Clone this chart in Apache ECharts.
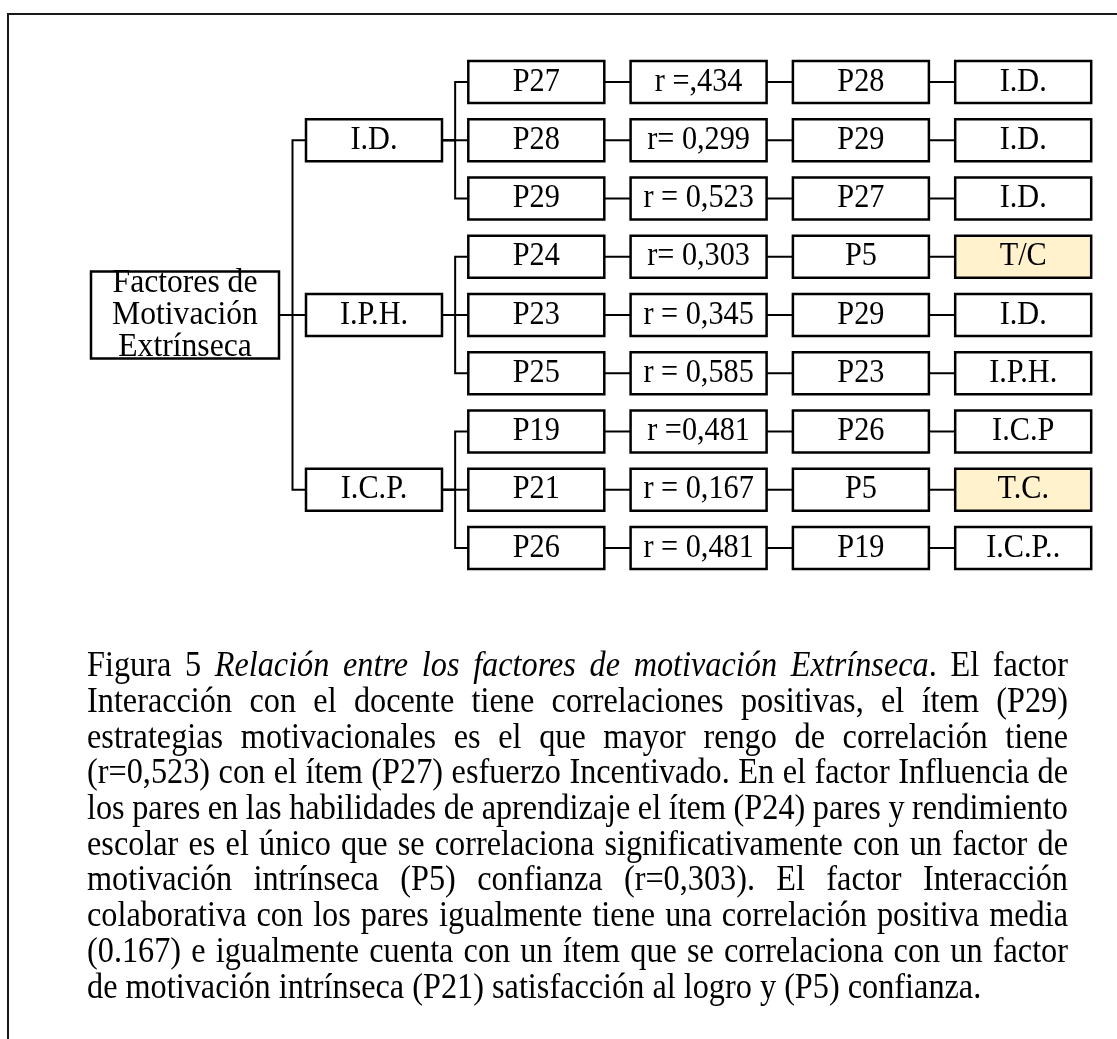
<!DOCTYPE html>
<html><head><meta charset="utf-8">
<script src="https://cdn.jsdelivr.net/npm/echarts@6/dist/echarts.min.js"></script>
<style>html,body{margin:0;padding:0;background:#fff}#c{width:1117px;height:1039px}</style>
</head><body><div id="c"></div>
<script>
// ---------- data ----------
const rootLabel = ['Factores de', 'Motivación', 'Extrínseca'];
const factors = ['I.D.', 'I.P.H.', 'I.C.P.'];
const items = ['P27', 'P28', 'P29', 'P24', 'P23', 'P25', 'P19', 'P21', 'P26'];
const itemFactor = [0, 0, 0, 1, 1, 1, 2, 2, 2];
const correlations = ['r =,434', 'r= 0,299', 'r = 0,523', 'r= 0,303', 'r = 0,345', 'r = 0,585', 'r =0,481', 'r = 0,167', 'r = 0,481'];
const pairedItems = ['P28', 'P29', 'P27', 'P5', 'P29', 'P23', 'P26', 'P5', 'P19'];
const pairedFactors = ['I.D.', 'I.D.', 'I.D.', 'T/C', 'I.D.', 'I.P.H.', 'I.C.P', 'T.C.', 'I.C.P..'];
const intrinsicLink = [0, 0, 0, 1, 0, 0, 0, 1, 0];
const captionLines = [
  'Figura 5 *Relación entre los factores de motivación Extrínseca*. El factor',
  'Interacción con el docente tiene correlaciones positivas, el ítem (P29)',
  'estrategias motivacionales es el que mayor rengo de correlación tiene',
  '(r=0,523) con el ítem (P27) esfuerzo Incentivado. En el factor Influencia de',
  'los pares en las habilidades de aprendizaje el ítem  (P24) pares y rendimiento',
  'escolar es el único que se correlaciona significativamente con un factor de',
  'motivación intrínseca (P5) confianza (r=0,303). El factor Interacción',
  'colaborativa con los pares igualmente tiene una correlación positiva media',
  '(0.167) e igualmente cuenta con un ítem que se correlaciona con un factor',
  'de motivación intrínseca (P21) satisfacción al logro y (P5) confianza.'
];

// ---------- layout / style ----------
const FONT_FAMILY = "'Liberation Serif', 'Times New Roman', serif";
const SX = 0.917;                 // the original figure is slightly condensed horizontally
const BOX_FONT = 33, ROOT_FONT = 34.5, CAP_FONT = 35.2;
const BOX_W = 136, BOX_H = 42, ROOT_W = 188, ROOT_H = 87, ROOT_LH = 32;
const HIGHLIGHT = '#FFF2CC';
const ROOT_U = -0.1645;

// build nodes from the data arrays
const nodes = [];
const rootIdx = nodes.push({u: ROOT_U, r: 4, lines: rootLabel, w: ROOT_W, h: ROOT_H, fs: ROOT_FONT, fill: '#fff'}) - 1;
const factorIdx = factors.map((f, k) => {
  const rows = itemFactor.map((g, i) => g === k ? i : -1).filter(i => i >= 0);
  const mid = rows[Math.floor(rows.length / 2)];
  return nodes.push({u: 1, r: mid, lines: [f], w: BOX_W, h: BOX_H, fs: BOX_FONT, fill: '#fff'}) - 1;
});
const colIdx = [items, correlations, pairedItems, pairedFactors].map((arr, c) =>
  arr.map((t, i) => nodes.push({u: 2 + c, r: i, lines: [t], w: BOX_W, h: BOX_H, fs: BOX_FONT,
    fill: (c === 3 && intrinsicLink[i]) ? HIGHLIGHT : '#fff'}) - 1));

const edges = [];
factorIdx.forEach(f => edges.push({a: rootIdx, b: f, elbow: true}));
items.forEach((_, i) => edges.push({a: factorIdx[itemFactor[i]], b: colIdx[0][i], elbow: true}));
for (let c = 0; c < 3; c++) items.forEach((_, i) => edges.push({a: colIdx[c][i], b: colIdx[c + 1][i], elbow: false}));

const chart = echarts.init(document.getElementById('c'), null, {renderer: 'canvas'});

// ---------- caption (justified) ----------
const ctx = document.createElement('canvas').getContext('2d');
function fontStr(it) { return (it ? 'italic ' : '') + CAP_FONT + 'px ' + FONT_FAMILY; }
function measure(t, it) { ctx.font = fontStr(it); return ctx.measureText(t).width * SX; }
const CAP_LEFT = 87, CAP_RIGHT = 1068, CAP_TOP = 667, CAP_LH = 35.7;
const captionEls = [];
let italic = false;
captionLines.forEach((line, li) => {
  const words = line.split(/ +/).map(w => {
    const runs = []; let buf = '';
    for (const ch of w) {
      if (ch === '*') { if (buf) runs.push({t: buf, it: italic}); buf = ''; italic = !italic; }
      else buf += ch;
    }
    if (buf) runs.push({t: buf, it: italic});
    runs.forEach(r => r.w = measure(r.t, r.it));
    return runs;
  });
  const widths = words.map(rs => rs.reduce((s, r) => s + r.w, 0));
  const total = widths.reduce((s, v) => s + v, 0);
  const last = li === captionLines.length - 1;
  const gap = last ? measure(' ', false) : (CAP_RIGHT - CAP_LEFT - total) / (words.length - 1);
  let x = CAP_LEFT;
  const y = CAP_TOP + li * CAP_LH;
  words.forEach(rs => {
    rs.forEach(r => {
      captionEls.push({type: 'text', x: x, y: y, scaleX: SX, silent: true,
        style: {text: r.t, font: fontStr(r.it), fill: '#000', textAlign: 'left', align: 'left',
          textVerticalAlign: 'middle', verticalAlign: 'middle'}});
      x += r.w;
    });
    x += gap;
  });
});

const option = {
  animation: false,
  backgroundColor: '#fff',
  grid: {left: 0, right: 0, top: 0, bottom: 0},
  xAxis: {type: 'value', min: -1.3044, max: 5.578, show: false},
  yAxis: {type: 'value', inverse: true, min: -1.408, max: 16.43, show: false},
  graphic: [
    {type: 'rect', shape: {x: 8, y: 14, width: 1400, height: 1400}, silent: true,
      style: {fill: 'none', stroke: '#1a1a1a', lineWidth: 2}}
  ].concat(captionEls),
  series: [
    {
      type: 'custom', coordinateSystem: 'cartesian2d', silent: true, z: 1,
      data: edges.map(e => [nodes[e.a].u, nodes[e.a].r, nodes[e.b].u, nodes[e.b].r]),
      renderItem: function (params, api) {
        const e = edges[params.dataIndex];
        const A = nodes[e.a], B = nodes[e.b];
        const p = api.coord([api.value(0), api.value(1)]);
        const c = api.coord([api.value(2), api.value(3)]);
        const x1 = p[0] + A.w / 2, x2 = c[0] - B.w / 2;
        let pts;
        if (e.elbow) {
          const xm = (x1 + x2) / 2;
          pts = [[x1, p[1]], [xm, p[1]], [xm, c[1]], [x2, c[1]]];
        } else {
          pts = [[x1, c[1]], [x2, c[1]]];
        }
        return {type: 'polyline', shape: {points: pts},
          style: {stroke: '#000', lineWidth: 2, fill: null, lineJoin: 'miter', lineCap: 'butt'}};
      }
    },
    {
      type: 'custom', coordinateSystem: 'cartesian2d', silent: true, z: 2,
      data: nodes.map(n => [n.u, n.r]),
      renderItem: function (params, api) {
        const n = nodes[params.dataIndex];
        const c = api.coord([api.value(0), api.value(1)]);
        const children = [{
          type: 'rect',
          shape: {x: c[0] - n.w / 2, y: c[1] - n.h / 2, width: n.w, height: n.h},
          style: {fill: n.fill, stroke: '#000', lineWidth: 2.5}
        }];
        const k = n.lines.length;
        n.lines.forEach((t, j) => {
          children.push({
            type: 'text', x: c[0], y: c[1] + (j - (k - 1) / 2) * ROOT_LH, scaleX: SX,
            style: {text: t, font: n.fs + 'px ' + FONT_FAMILY, fill: '#000',
              textAlign: 'center', align: 'center', textVerticalAlign: 'middle', verticalAlign: 'middle'}
          });
        });
        return {type: 'group', children: children};
      }
    }
  ]
};
chart.setOption(option);
</script>
</body></html>
